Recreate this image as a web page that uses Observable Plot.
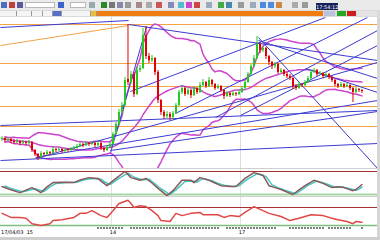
<!DOCTYPE html>
<html><head><meta charset="utf-8">
<script src="https://cdn.jsdelivr.net/npm/d3@7"></script>
<script src="https://cdn.jsdelivr.net/npm/@observablehq/plot@0.6"></script>
<style>
html,body{margin:0;padding:0;background:#fff;}
#page{position:relative;width:380px;height:240px;overflow:hidden;font-family:"DejaVu Sans",sans-serif;}
#toolbar{position:absolute;left:0;top:0;width:380px;height:10px;background:#eaeaea;}
.ic{position:absolute;top:2px;height:6px;width:6px;}
.box{position:absolute;top:2px;height:6px;background:#fff;border:1px solid #b8b8b8;box-sizing:border-box;}
#tabs{position:absolute;left:0;top:10px;width:380px;height:7px;background:#dadada;}
.tab{position:absolute;top:1px;height:5px;background:#f4f4f4;border-right:1px solid #999;}
#orange{position:absolute;left:97px;top:1px;width:226px;height:5px;background:#f07d14;}
#clock{position:absolute;left:316px;top:3px;width:22px;height:8px;background:#13205a;color:#fff;font-size:5px;line-height:8px;text-align:center;}
#main{position:absolute;left:0;top:17px;}
#p1{position:absolute;left:0;top:169px;}
#p2{position:absolute;left:0;top:197px;}
.sep{position:absolute;left:0;width:377px;height:1px;background:#cfcfcf;}
#scroll{position:absolute;left:377px;top:17px;width:3px;height:220px;background:#d6d6d6;}
#bottom{position:absolute;left:0;top:237px;width:380px;height:3px;background:#cfcfcf;}
#tlabel{position:absolute;left:1px;top:229px;font-size:5px;line-height:6px;color:#000;}
</style>
</head><body>
<div id="page">
  <div id="toolbar">
    <div class="ic" style="left:1px;background:#4a6fc0"></div>
    <div class="ic" style="left:9px;background:#c04040"></div>
    <div class="ic" style="left:17px;background:#5a5a9a"></div>
    <div class="box" style="left:25px;width:30px"></div>
    <div class="ic" style="left:58px;background:#3a64c8"></div>
    <div class="box" style="left:70px;width:16px"></div>
    <div class="ic" style="left:89px;background:#9aa"></div>
    <div class="ic" style="left:101px;background:#2a8a2a"></div>
    <div class="ic" style="left:109px;background:#777"></div>
    <div class="ic" style="left:117px;background:#88a"></div>
    <div class="ic" style="left:125px;background:#999"></div>
    <div class="ic" style="left:136px;background:#a88"></div>
    <div class="ic" style="left:146px;background:#aaa"></div>
    <div class="ic" style="left:156px;background:#c55"></div>
    <div class="ic" style="left:168px;background:#88b"></div>
    <div class="ic" style="left:178px;background:#5bc"></div>
    <div class="ic" style="left:186px;background:#c4c"></div>
    <div class="ic" style="left:194px;background:#c44"></div>
    <div class="ic" style="left:206px;background:#9ab"></div>
    <div class="ic" style="left:218px;background:#4a4"></div>
    <div class="ic" style="left:226px;background:#48a"></div>
    <div class="ic" style="left:238px;background:#999"></div>
    <div class="ic" style="left:250px;background:#9ab"></div>
    <div class="ic" style="left:260px;background:#4a8ae0"></div>
    <div class="ic" style="left:268px;background:#4a8ae0"></div>
    <div class="ic" style="left:276px;background:#c84"></div>
    <div class="ic" style="left:292px;background:#aaa"></div>
    <div class="ic" style="left:302px;background:#999"></div>
    <div id="clock">17:54:12</div>
  </div>
  <div id="tabs">
    <div class="tab" style="left:0;width:16px"></div>
    <div class="tab" style="left:17px;width:14px"></div>
    <div class="tab" style="left:32px;width:10px"></div>
    <div class="tab" style="left:43px;width:9px"></div>
    <div class="tab" style="left:53px;width:8px;background:#5870c8"></div>
    <div class="tab" style="left:62px;width:28px"></div>
    <div class="tab" style="left:91px;width:5px;background:#e8c040"></div>
    <div id="orange"></div>
    <div style="position:absolute;left:324px;top:1px;width:11px;height:5px;background:#b9c2dc"></div>
    <div style="position:absolute;left:337px;top:1px;width:9px;height:5px;background:#22a822"></div>
    <div style="position:absolute;left:347px;top:1px;width:9px;height:5px;background:#cc2020"></div>
    <div style="position:absolute;left:357px;top:1px;width:20px;height:5px;background:#e4e4e4"></div>
  </div>
  <div id="main"></div>
  <div id="p1"></div>
  <div id="p2"></div>
  <div class="sep" style="top:168px"></div>
  <div class="sep" style="top:196px"></div>
  <div id="scroll"></div>
  <div id="bottom"></div>
  <div id="tlabel">17/04/03&nbsp;&nbsp;15</div>
</div>
<script>
// ---- candle data (index = bar number) ----
const open = [30,31,29,30,28,27,28,26,27,26, 27,19,15,12,16,15,17,16,20,19, 20,18,20,19,20,21,23,25,24,26, 25,26,24,26,21,19,22,25,35,45,
  57,64,90,87,95,75,99,101,134,113, 109,111,97,69,57,53,55,52,56,64, 77,81,75,79,74,81,77,84,87,83, 89,85,81,83,79,73,76,74,76,75,
  77,81,87,95,103,111,125,119,121,113, 107,103,105,97,99,95,93,91,83,81, 85,84,87,91,97,99,95,96,93,95, 92,89,85,83,85,83,84,81,77,80, 79];
const close = [31,29,30,28,27,28,26,27,26,27, 19,15,12,16,15,17,16,20,19,20, 18,19,19,20,21,23,25,24,26,25, 26,24,26,21,19,22,25,35,45,57,
  64,89,87,95,75,99,101,134,113,109, 111,97,69,57,53,55,52,56,64,77, 81,75,79,74,81,77,84,87,83,89, 85,81,83,79,73,76,74,76,75,77,
  81,87,95,103,111,125,119,121,113,107, 103,105,97,99,95,93,91,83,81,85, 84,87,91,97,99,95,96,93,95,92, 89,85,83,85,83,84,81,77,80,79, 78];
const high = [33,32,32,31,30,30,29,29,28,29, 28,20,16,18,17,19,18,22,21,22, 21,21,21,22,23,25,27,26,28,27, 28,27,28,27,22,24,27,37,47,60,
  67,92,145,98,97,102,104,141,143,116, 114,112,99,70,59,58,57,58,66,79, 84,83,82,80,83,82,87,90,88,92, 90,86,85,84,80,78,77,78,77,79,
  83,89,97,105,114,133,127,123,122,114, 108,107,106,101,100,97,95,92,85,87, 86,89,93,99,101,100,98,97,97,96, 93,90,86,87,86,86,85,82,82,81, 80];
const low = [28,27,28,26,25,26,24,25,24,25, 17,13,9,11,13,14,14,15,17,18, 16,17,17,18,19,20,22,22,23,23, 24,22,23,19,17,18,21,24,34,44,
  55,63,84,85,72,74,97,100,110,106, 107,94,66,54,50,51,49,50,55,63, 75,73,74,71,73,75,76,83,81,82, 83,79,80,77,70,72,72,73,73,74,
  76,80,86,94,102,110,116,117,110,104, 100,101,95,96,93,91,89,80,79,80, 82,83,86,90,96,93,94,91,92,90, 87,83,81,82,81,82,79,67,76,77, 76];

// ---- drawn objects on the price chart (bar index, price) ----
const trendLines = [
  [-0.5,142, 42.2,149], [42.2,145, 125.2,109], [85.5,132, 125.2,1], [85.5,129, 125.2,91], [101.2,101, 125.2,77],
  [36.2,17, 48.2,143], [42.8,78, 107.8,152], [57.8,56, 121.8,152], [71.2,52, 125.2,139], [79.5,54, 125.2,124],
  [11.2,12, 125.2,69], [11.2,11, 125.2,107], [-0.5,44, 125.2,59], [-0.5,9, 125.2,26], [36.2,19, 125.2,58]
];
const fiboLevels = [145, 106, 83, 63, 43];
const orangeDiag = [[-0.5,124, 42.2,144]];
const sessionBreaks = [36.5, 79.5];

// ---- oscillator panel (stochastic %K / %D) ----
const stochKIdx = [0,2,4,6,10,13,15,17,20,24,26,29,32,33,35,38,41,43,46,48,50,52,55,57,60,63,64,66,69,71,73,76,78,81,84,87,89,91,93,97,99,101,104,107,110,112,114,117,118,120];
const stochK    = [41,35,30,25,38,25,40,51,52,51,58,64,62,55,43,62,80,64,57,62,50,36,17,30,57,57,51,64,57,50,43,41,41,62,77,70,43,38,33,20,32,43,57,49,38,40,38,30,33,46];
const stochDIdx = [1,3,5,7,11,14,16,18,21,25,27,30,33,34,36,39,42,44,47,49,51,53,56,58,61,64,65,67,70,72,74,77,79,82,85,88,90,92,94,98,100,102,105,108,111,113,115,118,119,120];
const stochD    = [42,36,31,27,35,28,40,49,51,52,58,62,60,54,46,62,76,65,58,60,48,35,20,32,54,55,52,62,56,49,44,41,43,61,74,67,45,38,32,22,33,44,55,48,39,40,37,31,34,40];
const stochLevels = [80, 20];

// ---- RSI-like panel ----
const rsiIdx = [0,3,6,8,10,13,16,17,20,24,26,28,30,33,35,37,39,42,43,44,46,48,50,52,53,56,58,60,63,66,67,72,74,76,79,81,84,87,89,93,96,99,103,107,110,112,115,117,118,120];
const rsi    = [57,48,48,46,34,30,34,41,43,48,57,57,63,52,48,63,79,86,79,70,74,72,63,52,41,39,57,52,57,59,54,54,48,52,50,59,72,63,57,50,41,46,54,52,46,43,39,34,39,37];
const rsiLevels = [70, 30];

// ---- time axis ----
const axisTicks = [32,33,34,35,36,37,38,39,40,43,44,45,46,47,48,49,50,51,52,53,54,55,56,57,58,59,60,61,62,63,64,65,66,67,68,69,70,71,72,
  75,76,77,78,79,80,81,82,83,84,85,86,87,88,89,90,91,96,97,98,99,100,101,102,103,104,105,106,107,109,110,111,112,113,114,115,116,120];
const axisLabels = {37: "14", 80: "17"};

const bars = d3.range(close.length).map(i => ({i, o: open[i], c: close[i], h: high[i], l: low[i]}));
const links = trendLines.map(([x1,y1,x2,y2]) => ({x1,y1,x2,y2}));
const diag = orangeDiag.map(([x1,y1,x2,y2]) => ({x1,y1,x2,y2}));
const up = d => d.c >= d.o;
const down = d => d.c < d.o;
const xDomain = [-0.5, 125.17];
const W = 377;
const GREEN = "#22cc22", RED = "#e00000", BLUE = "#3b3bd2", ORANGE = "#f3a248", BAND = "#cc44cc";

const bandUpper = V => d3.mean(V) + 2 * d3.deviation(V);
const bandLower = V => d3.mean(V) - 2 * d3.deviation(V);

const main = Plot.plot({
  width: W, height: 152, margin: 0,
  x: {domain: xDomain, axis: null},
  y: {domain: [0, 152], axis: null},
  marks: [
    Plot.ruleX(sessionBreaks, {stroke: "#dcdcdc"}),
    Plot.ruleY(fiboLevels, {stroke: ORANGE}),
    Plot.link(diag, {x1: "x1", y1: "y1", x2: "x2", y2: "y2", stroke: ORANGE}),
    Plot.lineY(bars, Plot.windowY({k: 20, anchor: "end", reduce: bandUpper}, {x: "i", y: "c", stroke: BAND})),
    Plot.lineY(bars, Plot.windowY({k: 20, anchor: "end", reduce: "mean"}, {x: "i", y: "c", stroke: BAND})),
    Plot.lineY(bars, Plot.windowY({k: 20, anchor: "end", reduce: bandLower}, {x: "i", y: "c", stroke: BAND})),
    Plot.link(links, {x1: "x1", y1: "y1", x2: "x2", y2: "y2", stroke: BLUE, strokeWidth: 1}),
    Plot.ruleX(bars, {filter: up, x: "i", y1: "l", y2: "h", stroke: GREEN}),
    Plot.ruleX(bars, {filter: down, x: "i", y1: "l", y2: "h", stroke: RED}),
    Plot.ruleX(bars, {filter: up, x: "i", y1: "o", y2: "c", stroke: GREEN, strokeWidth: 2}),
    Plot.ruleX(bars, {filter: down, x: "i", y1: "o", y2: "c", stroke: RED, strokeWidth: 2})
  ]
});
document.getElementById("main").append(main);

const kPts = stochKIdx.map((i, j) => ({i, v: stochK[j]}));
const dPts = stochDIdx.map((i, j) => ({i, v: stochD[j]}));
const p1 = Plot.plot({
  width: W, height: 28, margin: 0,
  x: {domain: xDomain, axis: null},
  y: {domain: [12.2, 85.2], axis: null},
  marks: [
    Plot.ruleX(sessionBreaks, {stroke: "#e2e2e2"}),
    Plot.ruleY([stochLevels[0]], {stroke: "#a83030"}),
    Plot.ruleY([stochLevels[1]], {stroke: "#a6d8a6", strokeWidth: 2}),
    Plot.line(dPts, {x: "i", y: "v", stroke: "#45c8c8"}),
    Plot.line(kPts, {x: "i", y: "v", stroke: "#8a5858"})
  ]
});
document.getElementById("p1").append(p1);

const rPts = rsiIdx.map((i, j) => ({i, v: rsi[j]}));
const p2 = Plot.plot({
  width: W, height: 40, marginTop: 0, marginLeft: 0, marginRight: 0, marginBottom: 10,
  style: {fontSize: "5px", fontFamily: "DejaVu Sans", color: "#000"},
  x: {domain: xDomain, ticks: axisTicks, tickSize: 2, tickPadding: 1, label: null,
      tickFormat: d => axisLabels[d] ?? ""},
  y: {domain: [25.6, 92.2], axis: null},
  marks: [
    Plot.ruleX(sessionBreaks, {stroke: "#e2e2e2"}),
    Plot.ruleY([rsiLevels[0]], {stroke: "#a83030"}),
    Plot.ruleY([rsiLevels[1]], {stroke: "#7cc07c", strokeWidth: 1.5}),
    Plot.line(rPts, {x: "i", y: "v", stroke: "#e04848"})
  ]
});
document.getElementById("p2").append(p2);
</script>
</body></html>
